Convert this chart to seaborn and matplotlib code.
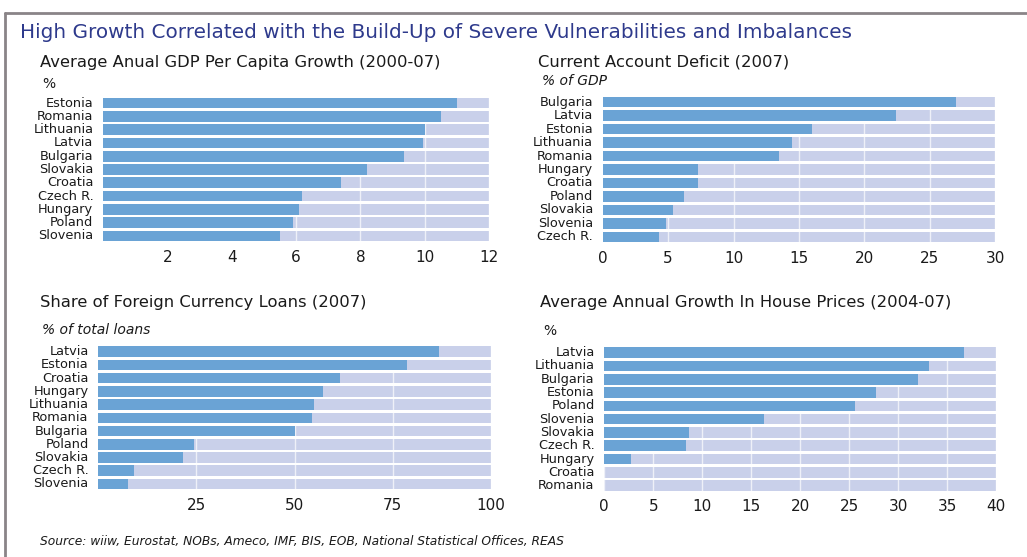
import matplotlib
matplotlib.use("Agg")
import matplotlib.pyplot as plt
import seaborn as sns
from matplotlib.lines import Line2D

# ------------------------------------------------------------------
# Data
# ------------------------------------------------------------------
gdp_countries = ["Estonia", "Romania", "Lithuania", "Latvia", "Bulgaria", "Slovakia",
                 "Croatia", "Czech R.", "Hungary", "Poland", "Slovenia"]
gdp_values = [11.0, 10.5, 10.0, 9.95, 9.35, 8.2, 7.4, 6.2, 6.1, 5.9, 5.5]
gdp_ticks = [2, 4, 6, 8, 10, 12]

cad_countries = ["Bulgaria", "Latvia", "Estonia", "Lithuania", "Romania", "Hungary",
                 "Croatia", "Poland", "Slovakia", "Slovenia", "Czech R."]
cad_values = [27.0, 22.4, 16.0, 14.5, 13.5, 7.3, 7.3, 6.2, 5.4, 4.8, 4.3]
cad_ticks = [0, 5, 10, 15, 20, 25, 30]

fx_countries = ["Latvia", "Estonia", "Croatia", "Hungary", "Lithuania", "Romania",
                "Bulgaria", "Poland", "Slovakia", "Czech R.", "Slovenia"]
fx_values = [86.7, 78.7, 61.5, 57.2, 54.9, 54.5, 50.1, 24.3, 21.5, 9.1, 7.5]
fx_ticks = [25, 50, 75, 100]

house_countries = ["Latvia", "Lithuania", "Bulgaria", "Estonia", "Poland", "Slovenia",
                   "Slovakia", "Czech R.", "Hungary", "Croatia", "Romania"]
house_values = [36.7, 33.2, 32.0, 27.7, 25.6, 16.3, 8.7, 8.3, 2.7, 0, 0]
house_ticks = [0, 5, 10, 15, 20, 25, 30, 35, 40]

# ------------------------------------------------------------------
# Style
# ------------------------------------------------------------------
sns.set_theme(style="white")
plt.rcParams['font.family'] = ['DejaVu Sans']

BAR = "#6aa3d5"
TRACK = "#c9d0ea"
TEXT = "#1a1a1a"
NAVY = "#2e3a8c"

fig = plt.figure(figsize=(10.27, 5.57), dpi=100)

panels = [
    # countries, values, ticks, axes rect
    (gdp_countries, gdp_values, gdp_ticks, [0.1003, 0.5645, 0.3759, 0.2624]),
    (cad_countries, cad_values, cad_ticks, [0.5869, 0.5625, 0.3820, 0.2664]),
    (fx_countries, fx_values, fx_ticks, [0.0957, 0.1192, 0.3824, 0.2612]),
    (house_countries, house_values, house_ticks, [0.5884, 0.1162, 0.3814, 0.2626]),
]

for countries, values, ticks, rect in panels:
    ax = fig.add_axes(rect)
    xmax = ticks[-1]
    # background track behind each bar
    sns.barplot(x=[xmax] * len(countries), y=countries, color=TRACK, width=0.8,
                orient="h", saturation=1, ax=ax, zorder=0.5, linewidth=0)
    sns.barplot(x=values, y=countries, color=BAR, width=0.8,
                orient="h", saturation=1, ax=ax, zorder=2, linewidth=0)
    ax.set_xlim(0, xmax)
    ax.set_xticks(ticks)
    ax.set_xticklabels([str(t) for t in ticks])
    ax.grid(axis="x", color="white", lw=1.0, alpha=0.7)
    ax.set_axisbelow("line")
    ax.tick_params(axis="x", length=0, pad=5, labelsize=11, labelcolor=TEXT)
    ax.tick_params(axis="y", length=0, pad=7, labelsize=9.3, labelcolor=TEXT)
    for lab in ax.get_yticklabels():
        lab.set_verticalalignment("center")
    ax.set_xlabel("")
    ax.set_ylabel("")
    sns.despine(ax=ax, left=True, bottom=True)

# ------------------------------------------------------------------
# Text
# ------------------------------------------------------------------
H = 557.0
W = 1027.0

def put(x, y, s, color=TEXT, **kw):
    fig.text(x / W, 1 - y / H, s, va="center", ha="left", color=color, **kw)

put(20, 33, "High Growth Correlated with the Build-Up of Severe Vulnerabilities and Imbalances",
    fontsize=14.4, color=NAVY)

put(40, 62, "Average Anual GDP Per Capita Growth (2000-07)", fontsize=11.8)
put(42, 84, "%", fontsize=10)

put(538, 62, "Current Account Deficit (2007)", fontsize=11.8)
put(542, 81, "% of GDP", fontsize=10, style="italic")

put(40, 303, "Share of Foreign Currency Loans (2007)", fontsize=11.8)
put(42, 330, "% of total loans", fontsize=10, style="italic")

put(540, 302, "Average Annual Growth In House Prices (2004-07)", fontsize=11.8)
put(543, 331, "%", fontsize=10)

put(40, 541, "Source: wiiw, Eurostat, NOBs, Ameco, IMF, BIS, EOB, National Statistical Offices, REAS",
    fontsize=8.8, style="italic")

# frame lines
fig.add_artist(Line2D([5 / W, 1.0], [1 - 13 / H, 1 - 13 / H], color="#8a8487", lw=2))
fig.add_artist(Line2D([5 / W, 5 / W], [0.0, 1 - 13 / H], color="#8a8487", lw=2))

fig.savefig("out.png", dpi=100)
